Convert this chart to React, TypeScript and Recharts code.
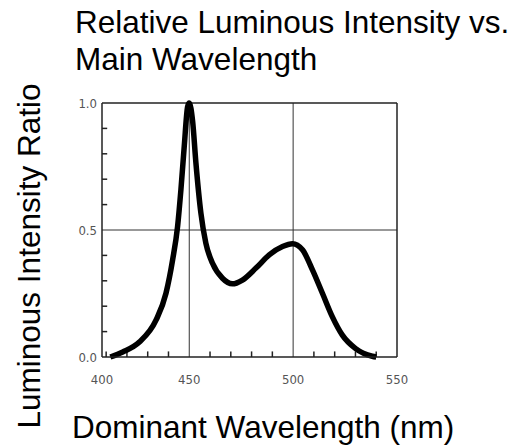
import { Line, LineChart, ReferenceLine, XAxis, YAxis } from "recharts";

const wavelength = [
  412, 418, 426, 434, 438.8, 442, 444.4, 446, 447.6, 449.2, 450, 451.6, 453.2, 455.6, 458, 461.2, 466, 470.8, 475.6,
  482.1, 488.5, 494.9, 499.7, 504.5, 509.3, 514.1, 518.9, 523.7, 530.1, 538.1, 540,
];
const intensity = [
  0, 0.02, 0.059, 0.145, 0.251, 0.383, 0.515, 0.66, 0.831, 0.985, 1.0, 0.93, 0.765, 0.567, 0.448, 0.369, 0.31, 0.288,
  0.303, 0.35, 0.402, 0.435, 0.446, 0.422, 0.343, 0.251, 0.158, 0.086, 0.033, 0.003, 0,
];

const xLabelTicks = [408, 450, 500, 550];
const xTickLabels: Record<number, string> = { 408: "400", 450: "450", 500: "500", 550: "550" };
const xMinorTicks = [410, 420, 430, 440, 460, 470, 480, 490, 510, 520, 530, 540];
const yLabelTicks = [0, 0.5, 1.0];
const yTickLabels: Record<number, string> = { 0: "0.0", 0.5: "0.5", 1: "1.0" };
const yMinorTicks = [0.1, 0.2, 0.3, 0.4, 0.6, 0.7, 0.8, 0.9];

const data = wavelength.map((nm, i) => ({ nm, ratio: intensity[i] }));

const font = "'Liberation Sans', Arial, sans-serif";
const tickStyle = { fontSize: 13, fill: "#555", fontFamily: "'DejaVu Sans Condensed', 'DejaVu Sans', sans-serif" };

export default function App() {
  return (
    <div style={{ position: "absolute", left: 0, top: 0, width: 514, height: 448, background: "#fff" }}>
      <LineChart width={514} height={448} data={data} margin={{ top: 103, right: 117, bottom: 51, left: 62 }}>
        <XAxis
          type="number"
          dataKey="nm"
          domain={[408, 550]}
          ticks={xLabelTicks}
          allowDataOverflow
          height={40}
          tickSize={0}
          tickLine={false}
          tickMargin={18}
          tickFormatter={(v: number) => xTickLabels[v] ?? ""}
          tick={tickStyle}
          stroke="#222"
          strokeWidth={1.5}
          interval={0}
        />
        <YAxis
          type="number"
          domain={[0, 1]}
          ticks={yLabelTicks}
          width={40}
          tickSize={0}
          tickLine={false}
          tickMargin={5}
          tickFormatter={(v: number) => yTickLabels[v] ?? ""}
          tick={tickStyle}
          stroke="#222"
          strokeWidth={1.5}
          interval={0}
        />
        {xMinorTicks.map((t) => (
          <ReferenceLine
            key={`xt${t}`}
            segment={[
              { x: t, y: 0 },
              { x: t, y: 0.022 },
            ]}
            stroke="#222"
            strokeWidth={1.5}
          />
        ))}
        {yMinorTicks.map((t) => (
          <ReferenceLine
            key={`yt${t}`}
            segment={[
              { x: 408, y: t },
              { x: 410.5, y: t },
            ]}
            stroke="#222"
            strokeWidth={1.5}
          />
        ))}
        <ReferenceLine x={450} stroke="#333" strokeWidth={1} />
        <ReferenceLine x={500} stroke="#333" strokeWidth={1} />
        <ReferenceLine y={0.5} stroke="#333" strokeWidth={1} />
        <ReferenceLine y={1} stroke="#222" strokeWidth={1.5} />
        <ReferenceLine x={550} stroke="#222" strokeWidth={1.5} />
        <Line
          type="monotone"
          dataKey="ratio"
          stroke="#000"
          strokeWidth={5.5}
          dot={false}
          isAnimationActive={false}
        />
      </LineChart>
      <svg
        width={514}
        height={448}
        style={{ position: "absolute", left: 0, top: 0, pointerEvents: "none" }}
        fontFamily={font}
      >
        <text x={75} y={33} fontSize={31.5} fill="#000">
          Relative Luminous Intensity vs.
        </text>
        <text x={75} y={70} fontSize={31.5} fill="#000">
          Main Wavelength
        </text>
        <text x={72} y={438} fontSize={31.5} fill="#000">
          Dominant Wavelength (nm)
        </text>
        <text transform="translate(40,256) rotate(-90)" textAnchor="middle" fontSize={31.5} fill="#000">
          Luminous Intensity Ratio
        </text>
      </svg>
    </div>
  );
}
